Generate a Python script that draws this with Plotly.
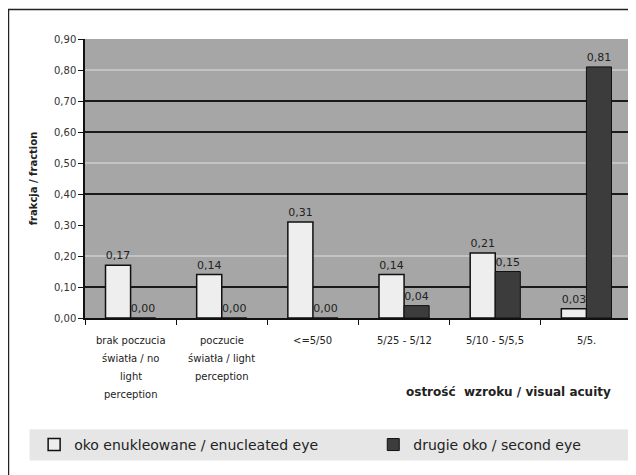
import plotly.graph_objects as go

categories = [
    "brak poczucia światła / no light perception",
    "poczucie światła / light perception",
    "<=5/50",
    "5/25 - 5/12",
    "5/10 - 5/5,5",
    "5/5.",
]
category_lines = [
    ["brak poczucia", "światła / no", "light", "perception"],
    ["poczucie", "światła / light", "perception"],
    ["<=5/50"],
    ["5/25 - 5/12"],
    ["5/10 - 5/5,5"],
    ["5/5."],
]
enucleated = [0.17, 0.14, 0.31, 0.14, 0.21, 0.03]
second_eye = [0.00, 0.00, 0.00, 0.04, 0.15, 0.81]
y_ticks = [0.0, 0.1, 0.2, 0.3, 0.4, 0.5, 0.6, 0.7, 0.8, 0.9]
dark_grid = [0.1, 0.4, 0.6, 0.7]
light_grid = [0.2, 0.5, 0.8]

FONT = "DejaVu Sans"
TXT = "#222222"

fig = go.Figure()
fig.add_trace(go.Bar(
    x=categories, y=enucleated, name="oko enukleowane / enucleated eye",
    marker=dict(color="#eeeeee", line=dict(color="#111111", width=1.5)),
    text=[f"{v:.2f}".replace(".", ",") for v in enucleated],
    textposition="outside", textfont=dict(size=11, color=TXT, family=FONT),
    cliponaxis=False, legend="legend",
))
fig.add_trace(go.Bar(
    x=categories, y=second_eye, name="drugie oko / second eye",
    marker=dict(color="#3c3c3c", line=dict(color="#111111", width=1)),
    text=[f"{v:.2f}".replace(".", ",") for v in second_eye],
    textposition="outside", textfont=dict(size=11, color=TXT, family=FONT),
    cliponaxis=False, legend="legend2",
))

shapes = []
for g in dark_grid:
    shapes.append(dict(type="line", xref="paper", yref="y", x0=0, x1=1, y0=g, y1=g,
                       line=dict(color="#1a1a1a", width=2), layer="below"))
for g in light_grid:
    shapes.append(dict(type="line", xref="paper", yref="y", x0=0, x1=1, y0=g, y1=g,
                       line=dict(color="#cccccc", width=1.5), layer="below"))
# outer frame
shapes.append(dict(type="rect", xref="paper", yref="paper", x0=-0.1399, x1=1.05, y0=-0.7, y1=1.1057,
                   line=dict(color="#222222", width=1.5), fillcolor="rgba(0,0,0,0)", layer="below"))
# legend box
shapes.append(dict(type="rect", xref="paper", yref="paper", x0=-0.1005, x1=0.9945, y0=-0.509, y1=-0.401,
                   line=dict(color="#e6e6e6", width=1), fillcolor="#e6e6e6", layer="below"))
shapes.append(dict(type="line", xref="paper", yref="paper", x0=0.9945, x1=0.9945, y0=-0.509, y1=-0.401,
                   line=dict(color="#777777", width=1)))

annotations = [dict(text="<b>ostrość  wzroku / visual acuity</b>", xref="paper", yref="paper",
                    x=0.965, y=-0.265, xanchor="right", yanchor="middle", showarrow=False,
                    font=dict(size=12, color=TXT, family=FONT))]
for cat, lines in zip(categories, category_lines):
    for i, line in enumerate(lines):
        annotations.append(dict(text=line, x=cat, xref="x", yref="paper", y=0,
                                yshift=-(22 + 18 * i), xanchor="center", yanchor="middle",
                                showarrow=False, font=dict(size=10, color=TXT, family=FONT)))

legend_common = dict(orientation="h", yanchor="middle", y=-0.455,
                     bgcolor="rgba(0,0,0,0)", font=dict(size=14, color=TXT, family=FONT),
                     xanchor="left", itemwidth=30)

fig.update_layout(
    width=628, height=467,
    margin=dict(l=77, r=4, t=31, b=157),
    paper_bgcolor="white",
    plot_bgcolor="#a6a6a6",
    separators=", ",
    barmode="group",
    bargap=0.45,
    bargroupgap=0,
    font=dict(family=FONT, color=TXT),
    shapes=shapes,
    showlegend=True,
    legend=dict(x=-0.093, **legend_common),
    legend2=dict(x=0.527, **legend_common),
    annotations=annotations,
)
fig.update_yaxes(range=[0, 0.9], tickvals=y_ticks, tickformat=".2f",
                 showgrid=False, zeroline=False,
                 showline=True, linecolor="#111111", linewidth=1.5,
                 ticks="outside", ticklen=5, tickcolor="#111111",
                 tickfont=dict(size=10, color="#333333", family=FONT),
                 title=dict(text="<b>frakcja / fraction</b>", font=dict(size=10, color=TXT, family=FONT), standoff=14))
fig.update_xaxes(showgrid=False, showline=True, linecolor="#111111", linewidth=1.5,
                 ticks="outside", ticklen=5, tickcolor="#111111", tickson="boundaries",
                 showticklabels=False)

fig.write_html("out.html")
